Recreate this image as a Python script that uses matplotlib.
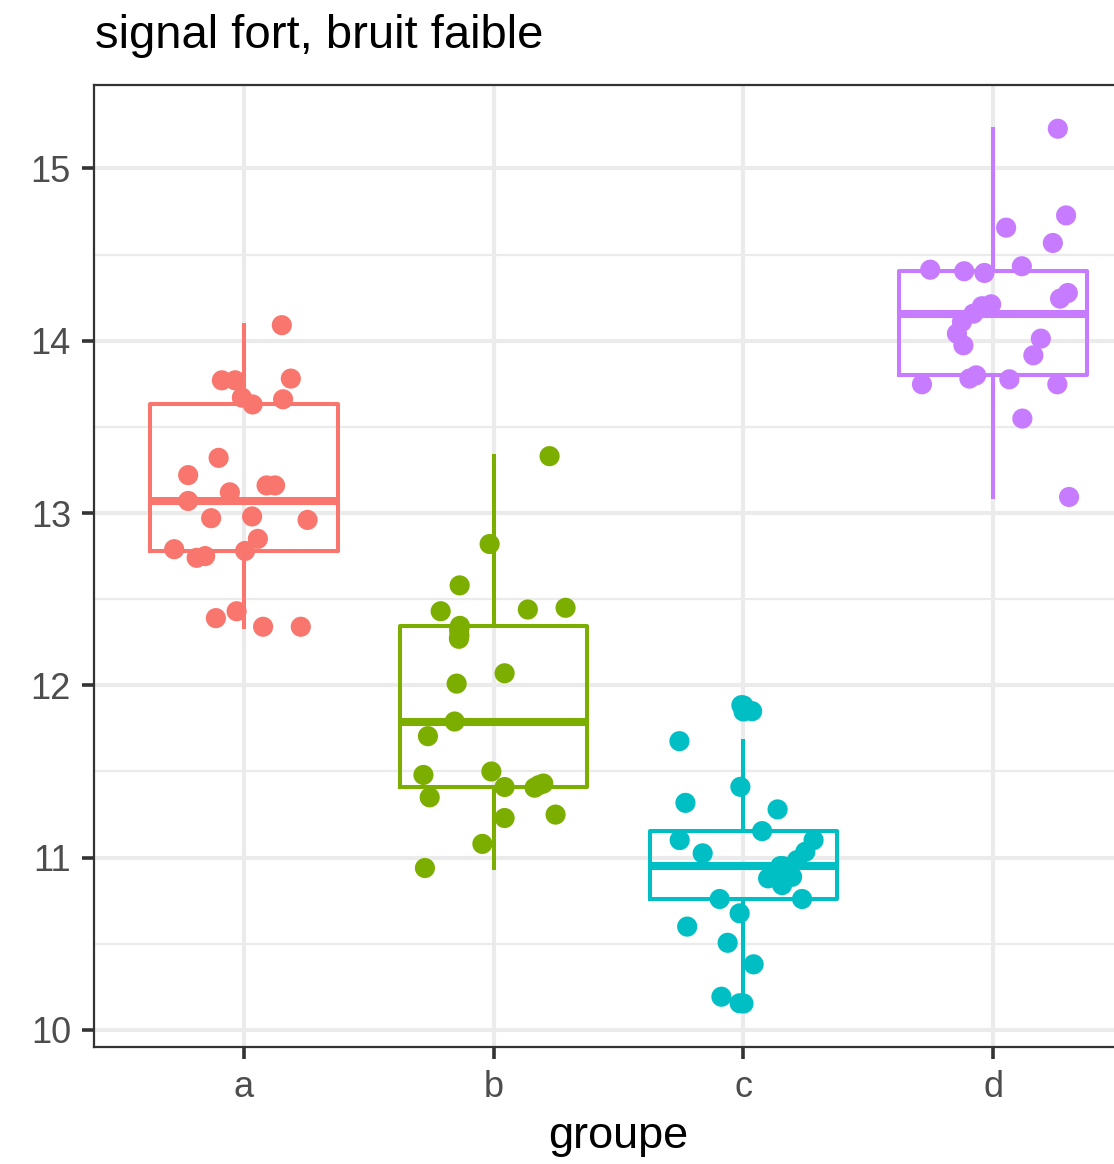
import numpy as np
import matplotlib
matplotlib.use('Agg')
import matplotlib.pyplot as plt

plt.rcParams['font.family'] = ['Liberation Sans', 'DejaVu Sans']

groups = ['a', 'b', 'c', 'd']
colors = ['#F8766D', '#7CAE00', '#00BFC4', '#C77CFF']

# values, with the horizontal jitter of each point
a_vals = [14.09, 13.77, 13.77, 13.78, 13.67, 13.63, 13.66, 13.32, 13.22, 13.12, 13.16, 13.16, 13.07,
          12.97, 12.98, 12.96, 12.85, 12.79, 12.78, 12.74, 12.75, 12.39, 12.43, 12.34, 12.34]
a_jit = [0.152, -0.088, -0.035, 0.188, -0.008, 0.035, 0.157, -0.101, -0.223, -0.056, 0.091, 0.125, -0.223,
         -0.131, 0.033, 0.255, 0.056, -0.279, 0.005, -0.189, -0.155, -0.112, -0.029, 0.077, 0.228]

b_vals = [13.33, 12.82, 12.58, 12.43, 12.44, 12.45, 12.345, 12.27, 12.29, 12.32, 12.01, 12.07, 11.79,
          11.705, 11.48, 11.50, 11.41, 11.406, 11.43, 11.42, 11.35, 11.23, 11.25, 11.08, 10.94]
b_jit = [0.224, -0.016, -0.136, -0.212, 0.137, 0.288, -0.135, -0.139, -0.137, -0.138, -0.148, 0.044, -0.156,
         -0.263, -0.281, -0.009, 0.044, 0.164, 0.199, 0.18, -0.256, 0.044, 0.248, -0.045, -0.275]

c_vals = [11.885, 11.85, 11.676, 11.411, 11.318, 11.28, 11.154, 11.102, 11.102, 11.034, 11.025, 10.986, 10.951,
          10.95, 10.889, 10.88, 10.841, 10.76, 10.76, 10.677, 10.60, 10.506, 10.381, 10.193, 10.155]
c_jit = [-0.008, 0.035, -0.256, -0.012, -0.232, 0.137, 0.075, -0.255, 0.281, 0.248, -0.163, 0.215, 0.148,
         0.16, 0.195, 0.099, 0.155, -0.095, 0.235, -0.015, -0.225, -0.063, 0.041, -0.088, -0.015]

d_vals = [15.23, 14.727, 14.656, 14.567, 14.412, 14.403, 14.393, 14.432, 14.277, 14.244, 14.211, 14.20, 14.157,
          14.109, 14.041, 13.973, 14.012, 13.915, 13.747, 13.78, 13.799, 13.776, 13.747, 13.548, 13.093]
d_jit = [0.259, 0.292, 0.052, 0.239, -0.252, -0.116, -0.035, 0.115, 0.299, 0.268, -0.008, -0.045, -0.079,
         -0.125, -0.145, -0.119, 0.191, 0.161, -0.285, -0.095, -0.068, 0.065, 0.257, 0.117, 0.304]

values = [a_vals, b_vals, c_vals, d_vals]
jitter = [a_jit, b_jit, c_jit, d_jit]
pos = np.arange(1, len(groups) + 1)

W, H = 1114, 1164
fig = plt.figure(figsize=(W / 100, H / 100), dpi=100)
ax = fig.add_axes([94 / W, (H - 1047) / H, (1143 - 94) / W, (1047 - 85) / H])

for i in range(len(groups)):
    c = colors[i]
    ax.boxplot([values[i]], positions=[pos[i]], widths=0.75, whis=1.5, showcaps=False,
               boxprops=dict(color=c, linewidth=2.9),
               whiskerprops=dict(color=c, linewidth=2.9),
               medianprops=dict(color=c, linewidth=5.8, solid_capstyle='butt'),
               flierprops=dict(marker='o', markerfacecolor=c, markeredgecolor='none', markersize=14.5),
               zorder=2)
    ax.scatter(pos[i] + np.array(jitter[i]), values[i], s=14.5 ** 2, color=c, edgecolors='none', zorder=3)

allv = np.concatenate(values)
rng = allv.max() - allv.min()
ax.set_ylim(allv.min() - 0.05 * rng, allv.max() + 0.05 * rng)
ax.set_xlim(0.4, 4.6)
ax.set_xticks(pos)
ax.set_xticklabels(groups)
ax.set_yticks([10, 11, 12, 13, 14, 15])
ax.set_yticks([10.5, 11.5, 12.5, 13.5, 14.5], minor=True)

ax.set_axisbelow(True)
ax.grid(True, which='major', color='#EBEBEB', linewidth=3.0, zorder=0)
ax.grid(True, which='minor', axis='y', color='#EBEBEB', linewidth=1.6, zorder=0)
ax.tick_params(which='minor', length=0)
ax.tick_params(which='major', length=8.6, width=2.6, color='#333333', labelcolor='#4D4D4D',
               labelsize=26, pad=8)
for sp in ax.spines.values():
    sp.set_color('#333333')
    sp.set_linewidth(1.6)

ax.set_xlabel('groupe', fontsize=32.5, color='black', labelpad=8)
fig.text(95 / W, 1 - 48 / H, 'signal fort, bruit faible', fontsize=34, color='black',
         ha='left', va='baseline')

fig.savefig('out.png', dpi=100)
